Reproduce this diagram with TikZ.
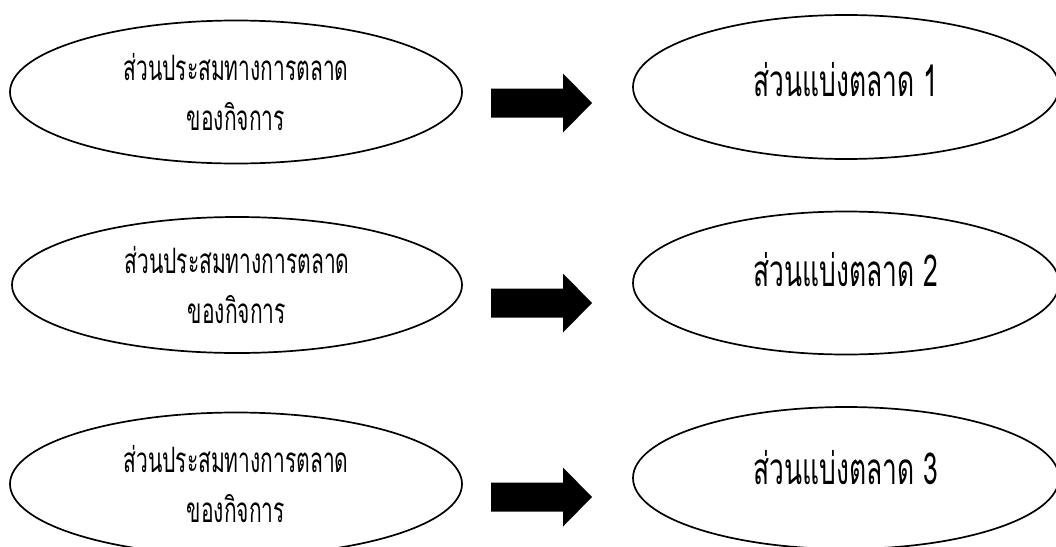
\documentclass[tikz,border=0pt]{standalone}
\usepackage{fontspec}
\newfontfamily\thaifont[Script=Thai,FakeStretch=0.6]{Loma}
\usetikzlibrary{shapes.geometric}
\tikzset{
  ell/.style={ellipse, draw=black, line width=1.7pt, inner sep=0pt},
  lefttxt/.style={align=center, font=\thaifont\fontsize{35}{50}\selectfont},
  righttxt/.style={font=\thaifont\fontsize{44}{48}\selectfont},
  blockarrow/.style={fill=black}
}
\newcommand{\blockarr}[1]{%
  \fill[blockarrow] (#1) ++(0,-14.5) -- ++(72,0) -- ++(0,-15) -- ++(29,29.5)
    -- ++(-29,29.5) -- ++(0,-15) -- ++(-72,0) -- cycle;}
\begin{document}
\begin{tikzpicture}[x=1pt,y=-1pt]
\useasboundingbox (0,0) rectangle (1056,546);
\clip (0,0) rectangle (1056,546);
% left ellipses
\node[ell, lefttxt, minimum width=452pt, minimum height=143pt] (l1) at (236,92) {ส่วนประสมทางการตลาด\\ของกิจการ};
\node[ell, lefttxt, minimum width=450pt, minimum height=136pt] (l2) at (237,285) {ส่วนประสมทางการตลาด\\ของกิจการ};
\node[ell, lefttxt, minimum width=452pt, minimum height=143pt] (l3) at (236,484) {ส่วนประสมทางการตลาด\\ของกิจการ};
% right ellipses
\node[ell, minimum width=426pt, minimum height=144pt,
  label={[righttxt, yshift=7pt]center:ส่วนแบ่งตลาด 1}] (r1) at (846,87) {};
\node[ell, minimum width=426pt, minimum height=143pt,
  label={[righttxt, yshift=13pt]center:ส่วนแบ่งตลาด 2}] (r2) at (846,283) {};
\node[ell, minimum width=426pt, minimum height=142pt,
  label={[righttxt, yshift=10pt]center:ส่วนแบ่งตลาด 3}] (r3) at (846,478) {};
% arrows
\coordinate (a1) at (491,103);
\coordinate (a2) at (491,303);
\coordinate (a3) at (491,497);
\blockarr{a1}
\blockarr{a2}
\blockarr{a3}
\end{tikzpicture}
\end{document}
